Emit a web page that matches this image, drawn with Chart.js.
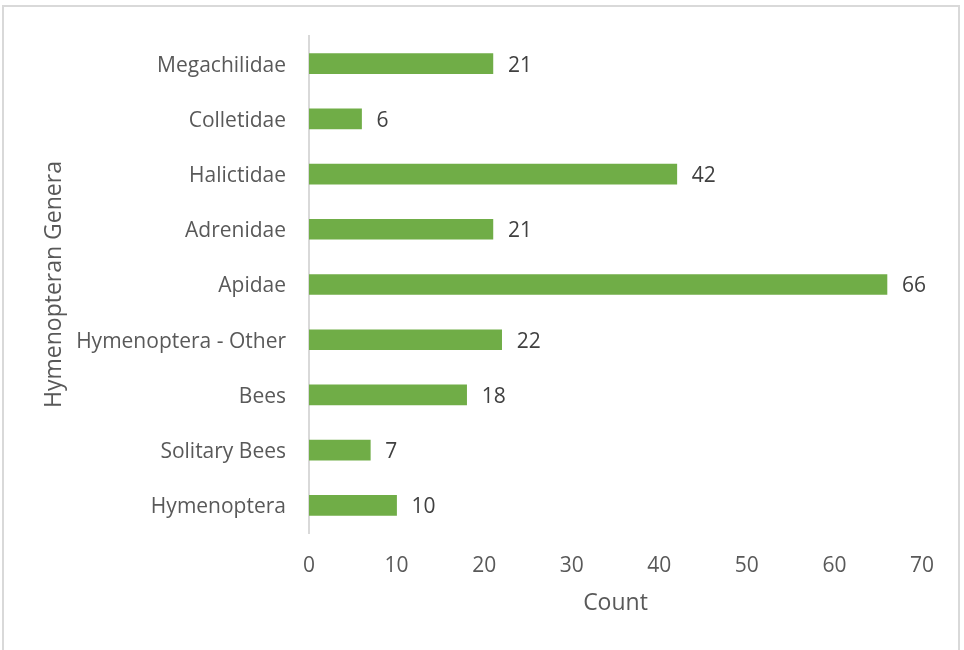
<!DOCTYPE html>
<html>
<head>
<meta charset="utf-8">
<script src="https://cdn.jsdelivr.net/npm/chart.js@4.4.0/dist/chart.umd.min.js"></script>
<style>
  html, body { margin: 0; padding: 0; background: #fff; overflow: hidden; }
  .frame {
    position: absolute; left: 2px; top: 5px; width: 958px; height: 700px;
    border: 2px solid #d9d9d9; box-sizing: border-box;
  }
  .wrap { position: absolute; left: 0; top: 0; width: 964px; height: 650px; }
</style>
</head>
<body>
<div class="frame"></div>
<div class="wrap"><canvas id="genera"></canvas></div>
<script>
const genera = ['Megachilidae', 'Colletidae', 'Halictidae', 'Adrenidae', 'Apidae',
  'Hymenoptera - Other', 'Bees', 'Solitary Bees', 'Hymenoptera'];
const counts = [21, 6, 42, 21, 66, 22, 18, 7, 10];
const countTicks = [0, 10, 20, 30, 40, 50, 60, 70];

const FONT = '"Open Sans", Lato, sans-serif';

// value text just past the end of each bar
const barValues = {
  id: 'barValues',
  afterDatasetsDraw(chart) {
    const ctx = chart.ctx;
    const meta = chart.getDatasetMeta(0);
    ctx.save();
    ctx.font = '21px ' + FONT;
    ctx.fillStyle = '#404040';
    ctx.textAlign = 'left';
    ctx.textBaseline = 'middle';
    meta.data.forEach((bar, i) => {
      ctx.fillText(String(counts[i]), bar.x + 15, bar.y + 2);
    });
    ctx.restore();
  }
};

new Chart(document.getElementById('genera'), {
  type: 'bar',
  data: {
    labels: genera,
    datasets: [{
      data: counts,
      backgroundColor: '#70AD47',
      borderWidth: 0,
      barThickness: 20
    }]
  },
  options: {
    indexAxis: 'y',
    responsive: true,
    maintainAspectRatio: false,
    animation: false,
    layout: { padding: { top: 36, right: 42, left: 0, bottom: 0 } },
    plugins: {
      legend: { display: false },
      tooltip: { enabled: false }
    },
    scales: {
      x: {
        min: 0,
        max: 70,
        afterFit(scale) { scale.height = 117; },
        afterBuildTicks(scale) { scale.ticks = countTicks.map(v => ({ value: v })); },
        grid: { display: false, drawTicks: false },
        border: { display: false },
        ticks: {
          padding: 20,
          color: '#595959',
          font: { family: FONT, size: 21 }
        },
        title: {
          display: true,
          text: 'Count',
          color: '#595959',
          font: { family: FONT, size: 23 },
          padding: { top: 0, bottom: 33 }
        }
      },
      y: {
        afterFit(scale) { scale.width = 309; },
        grid: { display: false, drawTicks: false },
        border: { display: true, color: '#d9d9d9', width: 2 },
        ticks: {
          padding: 23,
          labelOffset: 2,
          color: '#595959',
          font: { family: FONT, size: 21 }
        },
        title: {
          display: true,
          text: 'Hymenopteran Genera',
          color: '#595959',
          font: { family: FONT, size: 23 },
          padding: { top: 41, bottom: 0 }
        }
      }
    }
  },
  plugins: [barValues]
});
</script>
</body>
</html>
